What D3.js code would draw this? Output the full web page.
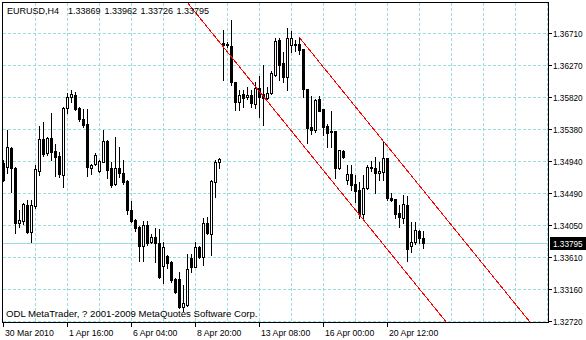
<!DOCTYPE html>
<html>
<head>
<meta charset="utf-8">
<script src="https://cdn.jsdelivr.net/npm/d3@7"></script>
<style>
  body { margin: 0; background: #fff; }
  svg text { font-family: "Liberation Sans", Arial, sans-serif; fill: #000; }
</style>
</head>
<body>
<div id="chart"></div>
<script>
// EURUSD H4 bars, 30 Mar 2010 .. 20 Apr 2010 (bar index = position on chart)
var opens = [
  1.34909, 1.34853, 1.35117, 1.34840, 1.34078, 1.34105, 1.34327, 1.33953, 1.34313, 1.34798,
  1.35241, 1.35047, 1.35255, 1.35075, 1.35006, 1.34743, 1.35671, 1.35823, 1.35851, 1.35671,
  1.35518, 1.35449, 1.34840, 1.34895, 1.34798, 1.34923, 1.35214, 1.34840, 1.34618, 1.34840,
  1.34770, 1.34659, 1.34258, 1.34119, 1.34022, 1.33759, 1.34050, 1.33814, 1.33884, 1.33800,
  1.33482, 1.33620, 1.33537, 1.33302, 1.33302, 1.32914, 1.32942, 1.33593, 1.33468, 1.33745,
  1.33607, 1.34078, 1.33925, 1.34646, 1.34923, 1.36571, 1.36544, 1.36530, 1.36031, 1.35754,
  1.35865, 1.35823, 1.35851, 1.35726, 1.35948, 1.35865, 1.35809, 1.35879, 1.36128, 1.36613,
  1.36294, 1.36100, 1.36544, 1.36557, 1.36557, 1.36488, 1.35934, 1.35408, 1.35366, 1.35795,
  1.35657, 1.35421, 1.35352, 1.35352, 1.34840, 1.35075, 1.34673, 1.34756, 1.34618, 1.34535,
  1.34202, 1.34562, 1.34853, 1.34840, 1.34770, 1.34784, 1.34978, 1.34424, 1.34410, 1.34216,
  1.34147, 1.34327, 1.33759, 1.33814, 1.33967, 1.33869
];
var highs = [
  1.34950, 1.35366, 1.35130, 1.34853, 1.34258, 1.34355, 1.34396, 1.34396, 1.34881, 1.35421,
  1.35477, 1.35269, 1.35601, 1.35172, 1.35061, 1.35685, 1.35879, 1.35920, 1.35892, 1.35685,
  1.35657, 1.35657, 1.34895, 1.35047, 1.34950, 1.35366, 1.35227, 1.34923, 1.35269, 1.35130,
  1.34950, 1.34673, 1.34382, 1.34133, 1.34036, 1.34105, 1.34105, 1.33925, 1.34008, 1.33994,
  1.33814, 1.33634, 1.33551, 1.33316, 1.33399, 1.33219, 1.33648, 1.33648, 1.33814, 1.33759,
  1.34147, 1.34161, 1.34673, 1.34950, 1.34978, 1.36751, 1.36585, 1.36890, 1.36031, 1.35920,
  1.35920, 1.35962, 1.35920, 1.36031, 1.36114, 1.36267, 1.35962, 1.36183, 1.36641, 1.36641,
  1.36447, 1.36779, 1.36738, 1.36613, 1.36654, 1.36488, 1.35934, 1.35837, 1.35795, 1.35837,
  1.35657, 1.35449, 1.35629, 1.35352, 1.35089, 1.35089, 1.34881, 1.34881, 1.34743, 1.34646,
  1.34743, 1.34881, 1.34937, 1.34992, 1.34923, 1.35214, 1.34978, 1.34493, 1.34410, 1.34327,
  1.34465, 1.34452, 1.34091, 1.34091, 1.33981, 1.33962
];
var lows = [
  1.34659, 1.34770, 1.34507, 1.33939, 1.34022, 1.34064, 1.33939, 1.33814, 1.34285, 1.34743,
  1.35006, 1.35020, 1.34950, 1.34729, 1.34715, 1.34576, 1.35601, 1.35754, 1.35643, 1.35491,
  1.35408, 1.34729, 1.34756, 1.34881, 1.34784, 1.34923, 1.34701, 1.34576, 1.34604, 1.34715,
  1.34618, 1.34202, 1.34091, 1.33967, 1.33551, 1.33551, 1.33773, 1.33800, 1.33537, 1.33316,
  1.33246, 1.33454, 1.33260, 1.33108, 1.32900, 1.32858, 1.32928, 1.33399, 1.33468, 1.33593,
  1.33496, 1.33925, 1.33634, 1.34438, 1.34840, 1.36059, 1.36516, 1.35989, 1.35643, 1.35643,
  1.35685, 1.35795, 1.35685, 1.35671, 1.35546, 1.35435, 1.35795, 1.35865, 1.36114, 1.36059,
  1.36031, 1.35920, 1.36447, 1.36460, 1.36419, 1.35823, 1.35186, 1.35311, 1.35338, 1.35629,
  1.35297, 1.35130, 1.35130, 1.34701, 1.34826, 1.34978, 1.34618, 1.34535, 1.34368, 1.34147,
  1.34147, 1.34549, 1.34798, 1.34493, 1.34673, 1.34673, 1.34396, 1.34382, 1.34147, 1.34022,
  1.34078, 1.33551, 1.33676, 1.33787, 1.33800, 1.33726
];
var closes = [
  1.34673, 1.35130, 1.34840, 1.34078, 1.34119, 1.34341, 1.33953, 1.34327, 1.34826, 1.35241,
  1.35033, 1.35255, 1.35061, 1.34992, 1.34756, 1.35671, 1.35823, 1.35865, 1.35657, 1.35518,
  1.35435, 1.34853, 1.34881, 1.35020, 1.34937, 1.35214, 1.34812, 1.34604, 1.34840, 1.34770,
  1.34646, 1.34258, 1.34105, 1.34008, 1.33759, 1.34050, 1.33800, 1.33884, 1.33800, 1.33329,
  1.33745, 1.33523, 1.33288, 1.33122, 1.32914, 1.32969, 1.33440, 1.33468, 1.33745, 1.33607,
  1.34078, 1.33939, 1.34659, 1.34923, 1.34964, 1.36544, 1.36557, 1.36031, 1.35754, 1.35851,
  1.35809, 1.35851, 1.35740, 1.35948, 1.35823, 1.35809, 1.35879, 1.36156, 1.36599, 1.36267,
  1.36100, 1.36641, 1.36641, 1.36544, 1.36474, 1.35934, 1.35394, 1.35366, 1.35782, 1.35629,
  1.35408, 1.35324, 1.35338, 1.34840, 1.35089, 1.34992, 1.34756, 1.34604, 1.34521, 1.34202,
  1.34562, 1.34853, 1.34840, 1.34770, 1.34798, 1.34978, 1.34424, 1.34396, 1.34202, 1.34161,
  1.34341, 1.33717, 1.33814, 1.33981, 1.33870, 1.33795
];

var priceTicks = [1.36710, 1.36270, 1.35820, 1.35380, 1.34940, 1.34490, 1.34050, 1.33610, 1.33160, 1.32720];
var priceLabels = ["1.36710", "1.36270", "1.35820", "1.35380", "1.34940", "1.34490", "1.34050", "1.33610", "1.33160", "1.32720"];
var timeTickBars = [0, 16, 32, 48, 64, 80, 96];
var timeLabels = ["30 Mar 2010", "1 Apr 16:00", "6 Apr 04:00", "8 Apr 20:00", "13 Apr 08:00", "16 Apr 00:00", "20 Apr 12:00"];
var gridBars = [8, 16, 24, 32, 40, 48, 56, 64, 72, 80, 88, 96, 104, 112, 120, 128, 136];

// equidistant channel (two parallel rays)
var upperBars = [74, 140];
var upperPrices = [1.36654, 1.32140];
var lowerBars = [40, 140];
var lowerPrices = [1.37549, 1.30709];

var symbol = "EURUSD,H4";
var lastPrice = 1.33795;
var copyright = "ODL MetaTrader, ? 2001-2009 MetaQuotes Software Corp.";

var W = 586, H = 340;
var plot = {left: 2, top: 2, right: 548, bottom: 322};
var gridColor = "#9cdcdc";

var svg = d3.select("#chart").append("svg")
    .attr("width", W)
    .attr("height", H)
    .attr("shape-rendering", "crispEdges");

svg.append("rect").attr("width", W).attr("height", H).attr("fill", "#fff");

var x = d3.scaleLinear().domain([0, 136]).range([3, 547]);
var y = d3.scaleLinear().domain([1.32720, 1.36710]).range([321, 33]);

function px(i) { return Math.round(x(i)); }
function py(p) { return Math.round(y(p)); }

svg.append("clipPath").attr("id", "plotclip")
    .append("rect")
    .attr("x", plot.left + 1).attr("y", plot.top + 1)
    .attr("width", plot.right - plot.left - 1)
    .attr("height", plot.bottom - plot.top - 1);

// grid
var grid = svg.append("g").attr("class", "grid")
    .attr("stroke", gridColor)
    .attr("stroke-dasharray", "3,2");

grid.selectAll(".hgrid")
    .data(priceTicks)
    .enter().append("line")
    .attr("class", "hgrid")
    .attr("x1", plot.left + 1).attr("x2", plot.right)
    .attr("y1", function(d) { return py(d) + 0.5; })
    .attr("y2", function(d) { return py(d) + 0.5; });

grid.selectAll(".vgrid")
    .data(gridBars)
    .enter().append("line")
    .attr("class", "vgrid")
    .attr("y1", plot.top + 1).attr("y2", plot.bottom)
    .attr("x1", function(d) { return px(d) + 0.5; })
    .attr("x2", function(d) { return px(d) + 0.5; });

// last price line
svg.append("line")
    .attr("x1", plot.left + 1).attr("x2", plot.right)
    .attr("y1", py(lastPrice) + 0.5).attr("y2", py(lastPrice) + 0.5)
    .attr("stroke", gridColor);

// candles
var bars = d3.range(opens.length).map(function(i) {
    return {i: i, o: opens[i], h: highs[i], l: lows[i], c: closes[i]};
});

var candles = svg.append("g").attr("clip-path", "url(#plotclip)")
    .selectAll(".candle")
    .data(bars)
    .enter().append("g")
    .attr("class", "candle");

candles.append("rect")
    .attr("x", function(d) { return px(d.i); })
    .attr("y", function(d) { return py(d.h); })
    .attr("width", 1)
    .attr("height", function(d) { return py(d.l) - py(d.h) + 1; })
    .attr("fill", "#000");

candles.each(function(d) {
    var g = d3.select(this);
    var cx = px(d.i);
    var top = Math.min(py(d.o), py(d.c));
    var bot = Math.max(py(d.o), py(d.c));
    if (d.c < d.o || bot - top < 2) {
        g.append("rect")
            .attr("x", cx - 1).attr("y", top)
            .attr("width", 3).attr("height", bot - top + 1)
            .attr("fill", "#000");
    } else {
        g.append("rect")
            .attr("x", cx - 0.5).attr("y", top + 0.5)
            .attr("width", 2).attr("height", bot - top)
            .attr("fill", "#fff").attr("stroke", "#000");
    }
});

// channel
var chan = svg.append("g").attr("clip-path", "url(#plotclip)")
    .attr("shape-rendering", "crispEdges");

chan.append("line")
    .attr("x1", x(upperBars[0])).attr("y1", y(upperPrices[0]))
    .attr("x2", x(upperBars[1])).attr("y2", y(upperPrices[1]))
    .attr("stroke", "#ff0000");

chan.append("line")
    .attr("x1", x(lowerBars[0])).attr("y1", y(lowerPrices[0]))
    .attr("x2", x(lowerBars[1])).attr("y2", y(lowerPrices[1]))
    .attr("stroke", "#ff0000");

// frame
svg.append("rect")
    .attr("x", plot.left + 0.5).attr("y", plot.top + 0.5)
    .attr("width", plot.right - plot.left).attr("height", plot.bottom - plot.top)
    .attr("fill", "none").attr("stroke", "#000");

// price axis
var yAxis = svg.append("g");
yAxis.selectAll(".ytick")
    .data(priceTicks)
    .enter().append("line")
    .attr("x1", plot.right + 1).attr("x2", plot.right + 4)
    .attr("y1", function(d) { return py(d) + 0.5; })
    .attr("y2", function(d) { return py(d) + 0.5; })
    .attr("stroke", "#000");

yAxis.selectAll(".ylab")
    .data(priceTicks)
    .enter().append("text")
    .attr("x", plot.right + 5)
    .attr("y", function(d) { return py(d) + 3.5; })
    .attr("font-size", "8.2px")
    .text(function(d, i) { return priceLabels[i]; });

// last price box
svg.append("rect")
    .attr("x", plot.right + 2).attr("y", py(lastPrice) - 6)
    .attr("width", W - plot.right - 2).attr("height", 13)
    .attr("fill", "#000");
svg.append("text")
    .attr("x", plot.right + 5)
    .attr("y", py(lastPrice) + 3.5)
    .attr("font-size", "8.2px")
    .style("fill", "#fff")
    .text(d3.format(".5f")(lastPrice));

// time axis
var xAxis = svg.append("g");
xAxis.selectAll(".xtick")
    .data(timeTickBars)
    .enter().append("line")
    .attr("x1", function(d) { return px(d) + 0.5; })
    .attr("x2", function(d) { return px(d) + 0.5; })
    .attr("y1", plot.bottom + 1).attr("y2", plot.bottom + 5)
    .attr("stroke", "#000");

xAxis.selectAll(".xlab")
    .data(timeTickBars)
    .enter().append("text")
    .attr("x", function(d) { return px(d) + 2; })
    .attr("y", 336)
    .attr("font-size", "8.7px")
    .text(function(d, i) { return timeLabels[i]; });

// header
var header = [symbol].concat([opens, highs, lows, closes].map(function(a) {
    return d3.format(".5f")(a[a.length - 1]);
}));
var headerX = [7, 68, 104.5, 140.5, 176.5];
svg.selectAll(".hdr")
    .data(header)
    .enter().append("text")
    .attr("x", function(d, i) { return headerX[i]; })
    .attr("y", 14)
    .attr("font-size", "9px")
    .text(function(d) { return d; });

svg.append("text")
    .attr("x", 6).attr("y", 317)
    .attr("font-size", "9.6px")
    .text(copyright);
</script>
</body>
</html>
